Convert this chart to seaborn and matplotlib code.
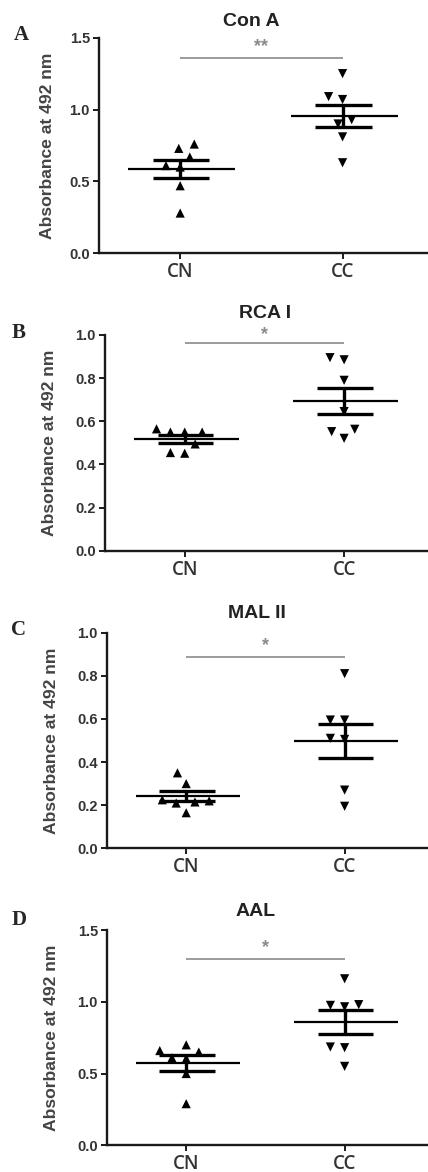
import numpy as np
import pandas as pd
import matplotlib
matplotlib.use("Agg")
import matplotlib.pyplot as plt
import seaborn as sns

# ----------------------------------------------------------
# data (absorbance at 492 nm, n = 7 per group)
# ----------------------------------------------------------
groups = ["CN", "CC"]
panel_letters = ["A", "B", "C", "D"]
lectins = ["Con A", "RCA I", "MAL II", "AAL"]

cn_cona = [0.76, 0.73, 0.67, 0.61, 0.60, 0.47, 0.28]
cc_cona = [1.25, 1.09, 1.07, 0.93, 0.90, 0.81, 0.63]
cn_rca = [0.565, 0.55, 0.55, 0.55, 0.495, 0.452, 0.455]
cc_rca = [0.895, 0.885, 0.79, 0.645, 0.563, 0.552, 0.521]
cn_mal = [0.35, 0.30, 0.215, 0.22, 0.21, 0.225, 0.165]
cc_mal = [0.81, 0.595, 0.595, 0.505, 0.51, 0.27, 0.195]
cn_aal = [0.70, 0.65, 0.66, 0.605, 0.61, 0.50, 0.29]
cc_aal = [1.16, 0.98, 0.965, 0.975, 0.68, 0.685, 0.55]

cn_values = [cn_cona, cn_rca, cn_mal, cn_aal]
cc_values = [cc_cona, cc_rca, cc_mal, cc_aal]

y_max = [1.5, 1.0, 1.0, 1.5]
y_step = [0.5, 0.2, 0.2, 0.5]
sig_labels = ["**", "*", "*", "*"]
sig_heights = [1.36, 0.965, 0.886, 1.296]
star_heights = [1.44, 1.0, 0.94, 1.38]

# ----------------------------------------------------------
# layout (pixels in a 428 x 1172 figure)
# ----------------------------------------------------------
W, H = 428, 1172
axes_px = [(99, 37.7, 253.3), (105, 335, 550.7), (107, 632.7, 848.3), (107, 930, 1145.3)]
title_px = [(251, 21), (265, 313), (257, 613), (256, 912)]
letter_px = [(21, 35), (18.5, 333), (19, 630), (19.5, 920)]
ylabel_x_px = [55, 57, 59, 59]

sns.set_style("ticks")
plt.rcParams["font.family"] = ["Liberation Sans", "DejaVu Sans"]

dark = "#1a1a1a"
fig = plt.figure(figsize=(W / 100, H / 100), dpi=100)

for k in range(4):
    left, top, bottom = axes_px[k]
    ax = fig.add_axes([left / W, 1 - bottom / H, (427 - left) / W, (bottom - top) / H])

    df = pd.DataFrame({
        "group": ["CN"] * len(cn_values[k]) + ["CC"] * len(cc_values[k]),
        "value": cn_values[k] + cc_values[k],
    })

    # points: up triangles for CN, down triangles for CC
    sns.swarmplot(data=df[df["group"] == "CN"], x="group", y="value", order=groups,
                  marker="^", color="black", size=6.6, linewidth=3.2, edgecolor="none", ax=ax)
    sns.swarmplot(data=df[df["group"] == "CC"], x="group", y="value", order=groups,
                  marker="v", color="black", size=6.6, linewidth=3.2, edgecolor="none", ax=ax)

    # mean +/- SEM
    stats = df.groupby("group")["value"].agg(["mean", "sem"]).reindex(groups)
    for i, g in enumerate(groups):
        m, e = stats.loc[g, "mean"], stats.loc[g, "sem"]
        ax.hlines(m, i - 0.32, i + 0.34, color="black", lw=1.6, zorder=4)
        ax.hlines([m - e, m + e], i - 0.17, i + 0.18, color="black", lw=2.4, zorder=4)
        ax.vlines(i, m - e, m + e, color="black", lw=2.4, zorder=4)

    # significance bar
    ax.hlines(sig_heights[k], 0, 1, color="#8a8a8a", lw=1.2)
    ax.text(0.5, star_heights[k], sig_labels[k], ha="center", va="center",
            color="#8a8a8a", fontsize=13, fontweight="bold", clip_on=False)

    ax.set_xlim(-0.5, 1.52)
    ax.set_ylim(0, y_max[k])
    ax.set_yticks(np.arange(0, y_max[k] + 1e-9, y_step[k]))
    ax.set_yticklabels([f"{t:.1f}" for t in ax.get_yticks()], fontweight="bold",
                       fontsize=10.5, color="#333333")
    ax.set_xticks([0, 1])
    ax.set_xticklabels(groups, fontsize=13.5, fontweight="semibold", color="#333333",
                       family=["Open Sans", "DejaVu Sans"])
    ax.set_xlabel("")
    ax.set_ylabel("Absorbance at 492 nm", fontsize=12.6, fontweight="bold", color="#444444")
    ax.yaxis.set_label_coords((ylabel_x_px[k] - left) / (427 - left), 0.5)

    sns.despine(ax=ax)
    for s in ["left", "bottom"]:
        ax.spines[s].set_linewidth(1.7)
        ax.spines[s].set_color(dark)
    ax.tick_params(axis="both", width=1.4, length=4.5, color=dark, pad=2)

    tx, ty = title_px[k]
    fig.text(tx / W, 1 - ty / H, lectins[k], ha="center", va="center",
             fontsize=14, fontweight="bold", color="#222222")
    lx, ly = letter_px[k]
    fig.text(lx / W, 1 - ly / H, panel_letters[k], ha="center", va="center",
             fontsize=15, fontweight="bold", family=["Liberation Serif", "DejaVu Serif"])

fig.savefig("out.png", dpi=100)
